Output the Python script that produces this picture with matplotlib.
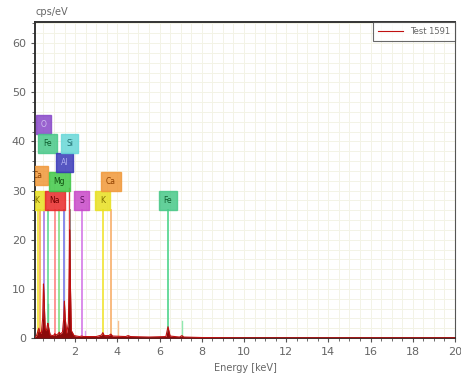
import numpy as np
import matplotlib
matplotlib.use("Agg")
import matplotlib.pyplot as plt
from matplotlib.ticker import MultipleLocator

# ── spectrum ─────────────────────────────────────────────────────────────────
spec_e = [0.10, 0.18, 0.24, 0.28, 0.32, 0.40, 0.46, 0.50, 0.53, 0.58, 0.64,
          0.68, 0.71, 0.75, 0.82, 0.95, 1.02, 1.04, 1.07, 1.18, 1.25, 1.29,
          1.40, 1.46, 1.49, 1.53, 1.60, 1.68, 1.72, 1.74, 1.77, 1.82, 1.95,
          2.20, 2.31, 2.40, 3.00, 3.25, 3.31, 3.38, 3.60, 3.69, 3.78, 4.40,
          4.51, 4.62, 5.50, 6.30, 6.40, 6.50, 6.95, 7.06, 7.15, 8.00, 10.0,
          20.0]
spec_c = [0.0, 0.6, 1.5, 2.0, 1.2, 1.0, 4.0, 11.0, 8.0, 2.0, 1.5,
          2.5, 3.0, 2.0, 0.6, 0.5, 0.7, 0.9, 0.6, 0.8, 1.2, 0.8,
          1.2, 4.0, 7.5, 4.0, 1.0, 3.0, 14.0, 22.0, 12.0, 1.5, 0.5,
          0.3, 0.4, 0.3, 0.3, 0.6, 1.1, 0.5, 0.5, 0.8, 0.4, 0.3,
          0.5, 0.3, 0.2, 0.3, 2.3, 0.4, 0.2, 0.5, 0.2, 0.1, 0.05,
          0.05]

# element marker lines: energy, top, colour
line_e   = [0.26, 0.34, 0.525, 0.705, 1.041, 1.253, 1.486, 1.74, 2.307, 3.312, 3.690, 6.398]
line_top = [26,   26,   26,    26,    26,    26,    26,    26,   26,    26,    26,    26]
line_col = ["#f2e640", "#f6b060", "#b084e8", "#6cdc9c", "#ff8c8c", "#8ce08c",
            "#8080e8", "#808080", "#d884e8", "#f2e640", "#f8b474", "#5cd894"]

# extra short lines (Kb / escape lines)
minor_e   = [1.72, 2.47, 4.01, 7.06, 0.72]
minor_top = [30.5, 1.5, 3.5, 3.5, 7.0]
minor_col = ["#e04040", "#e0a0f0", "#f8c090", "#90e8b0", "#60d090"]

# element label boxes
lab_txt = ["K", "Ca", "O", "Fe", "Na", "Mg", "Al", "Si", "S", "K", "Ca", "Fe"]
lab_e   = [0.20, 0.22, 0.50, 0.70, 1.04, 1.25, 1.49, 1.74, 2.31, 3.31, 3.69, 6.40]
lab_y   = [28, 33, 43.4, 39.5, 28, 31.8, 35.7, 39.5, 28, 28, 31.8, 28]
lab_fc  = ["#e8e020", "#f09838", "#8848c8", "#48c888", "#e82828", "#40c848",
           "#3838b8", "#68d8d8", "#c848c8", "#e8e020", "#f09838", "#48c888"]
lab_tc  = ["#807000", "#904000", "#d0c0f0", "#106030", "#700000", "#105010",
           "#b0b0f0", "#207070", "#601060", "#807000", "#904000", "#106030"]

fig = plt.figure(figsize=(4.61, 3.85), dpi=100)
ax = fig.add_axes([0.076, 0.122, 0.911, 0.821])

ax.set_xlim(0.1, 20)
ax.set_ylim(0, 64.3)

for e, t, c in zip(line_e, line_top, line_col):
    ax.plot([e, e], [0, t], color=c, lw=1.3, zorder=2)
for e, t, c in zip(minor_e, minor_top, minor_col):
    ax.plot([e, e], [0, t], color=c, lw=1.0, zorder=2)

ax.fill_between(spec_e, spec_c, 0, color="#8b0a0a", lw=0, zorder=3)
ax.plot(spec_e, spec_c, color="#c01010", lw=0.8, zorder=3, label="Test 1591")

for t, e, y, fc, tc in zip(lab_txt, lab_e, lab_y, lab_fc, lab_tc):
    ax.text(e, y, t, ha="center", va="center", fontsize=5.5, color=tc, zorder=5,
            clip_on=True,
            bbox=dict(boxstyle="square,pad=0.65", fc=fc, ec=fc, alpha=0.85))

ax.xaxis.set_minor_locator(MultipleLocator(0.5))
ax.yaxis.set_major_locator(MultipleLocator(10))
ax.yaxis.set_minor_locator(MultipleLocator(2))
ax.set_xticks(np.arange(2, 21, 2))
ax.grid(which="both", color="#f3f3e6", lw=0.7, zorder=0)
ax.set_axisbelow(True)

ax.tick_params(which="both", direction="out", colors="#555555", labelsize=8,
               labelcolor="#666666")
ax.tick_params(which="major", length=3)
ax.tick_params(which="minor", length=2)

for s in ["left", "top", "bottom"]:
    ax.spines[s].set_color("#333333")
    ax.spines[s].set_linewidth(1.4)
ax.spines["right"].set_color("#555555")
ax.spines["right"].set_linewidth(0.8)

ax.set_xlabel("Energy [keV]", fontsize=7, color="#666666", labelpad=4)
fig.text(0.076, 0.955, "cps/eV", fontsize=7, color="#666666", ha="left", va="bottom")

leg = ax.legend(loc="upper right", fontsize=6, frameon=True, fancybox=False,
                borderaxespad=0, handlelength=3, borderpad=0.6,
                labelcolor="#666666")
leg.get_frame().set_edgecolor("#444444")
leg.get_frame().set_linewidth(0.8)

fig.savefig("out.png", dpi=100)
